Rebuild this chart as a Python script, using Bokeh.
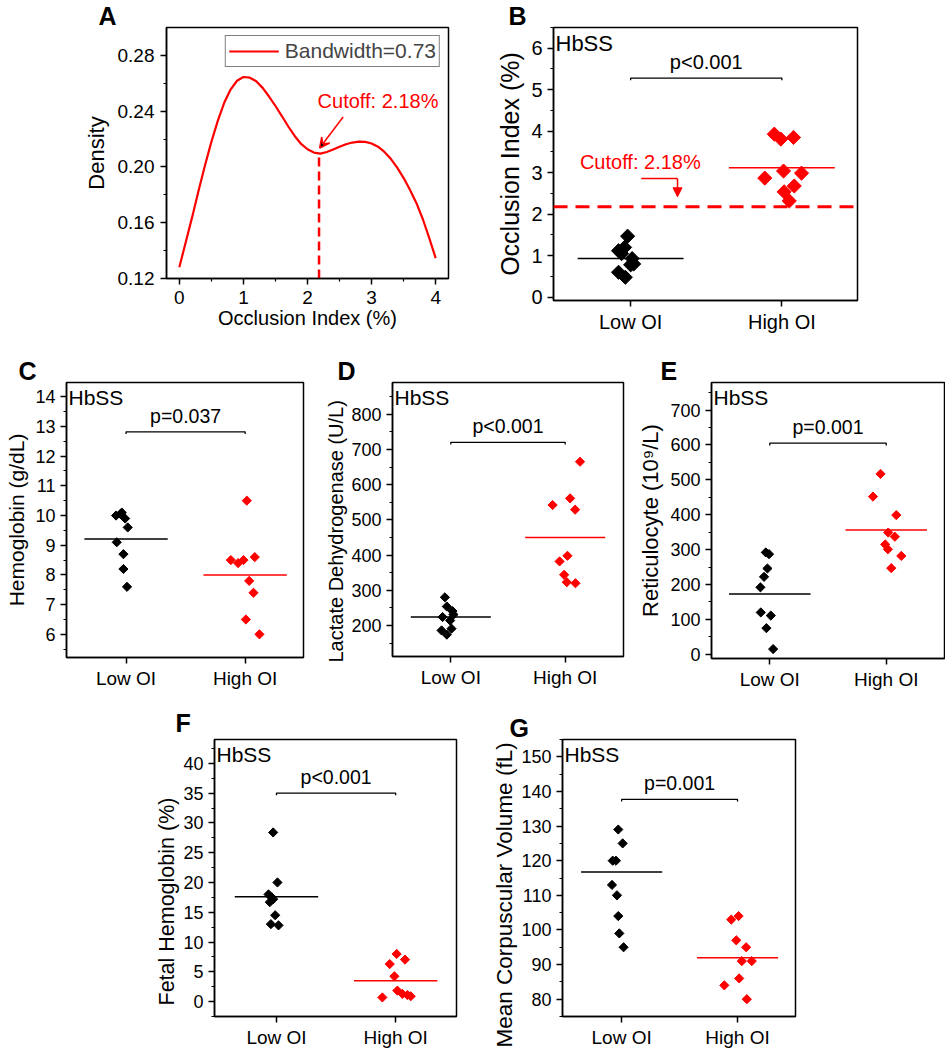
import math
from bokeh.plotting import figure
from bokeh.models import (Range1d, SingleIntervalTicker, FixedTicker, PrintfTickFormatter,
                          Label, Arrow, VeeHead, NormalHead, Span, Legend, LegendItem, Spacer,
                          Title)
from bokeh.layouts import row, column
from bokeh.embed import file_html
from bokeh.resources import INLINE

FONT = "Liberation Sans"
RED = "#FF0000"
BLACK = "#000000"

# ---------------- data ----------------
groups = ["Low OI", "High OI"]

# Panel A: kernel density estimate of occlusion index
kde_x = [0.0, 0.1, 0.2, 0.3, 0.4, 0.5, 0.6, 0.7, 0.8, 0.9, 1.0, 1.1, 1.2, 1.3, 1.4, 1.5,
         1.6, 1.7, 1.8, 1.9, 2.0, 2.1, 2.2, 2.3, 2.4, 2.5, 2.6, 2.7, 2.8, 2.9, 3.0, 3.1,
         3.2, 3.3, 3.4, 3.5, 3.6, 3.7, 3.8, 3.9, 4.0]
kde_y = [0.128, 0.146, 0.164, 0.183, 0.201, 0.218, 0.233, 0.246, 0.2555, 0.2618, 0.2645,
         0.2640, 0.2615, 0.2567, 0.2505, 0.2437, 0.2365, 0.2290, 0.2222, 0.2165, 0.2127,
         0.2103, 0.2096, 0.2107, 0.2125, 0.2145, 0.2163, 0.2175, 0.2182, 0.2180, 0.2168,
         0.2145, 0.2108, 0.2058, 0.1995, 0.1920, 0.1835, 0.1740, 0.1625, 0.1490, 0.1346]
bandwidth_label = "Bandwidth=0.73"
cutoff = 2.18
cutoff_density = 0.2096
cutoff_label = "Cutoff: 2.18%"

# Panel B: occlusion index
b_low = [1.47, 1.20, 1.12, 1.05, 0.93, 0.80, 0.78, 0.60, 0.48]
b_low_jit = [-0.02, -0.04, -0.08, -0.06, 0.01, 0.02, 0.0, -0.08, -0.035]
b_high = [3.93, 3.81, 3.85, 2.87, 3.04, 2.99, 2.54, 2.68, 2.32]
b_high_jit = [-0.05, -0.007, 0.077, -0.113, 0.011, 0.13, 0.015, 0.082, 0.049]
b_means = [0.93, 3.12]
b_p = "p<0.001"

# Panel C: hemoglobin
c_low = [10.0, 10.05, 10.1, 9.9, 9.6, 9.1, 8.7, 8.2, 7.6]
c_low_jit = [-0.084, -0.047, -0.036, -0.008, 0.014, -0.078, -0.022, -0.022, 0.008]
c_high = [10.5, 8.5, 8.4, 8.5, 8.6, 7.8, 7.4, 6.5, 6.0]
c_high_jit = [0.014, -0.12, -0.059, -0.014, 0.081, 0.034, 0.07, 0.006, 0.12]
c_means = [9.21, 8.0]
c_p = "p=0.037"

# Panel D: lactate dehydrogenase
d_low = [280, 254, 241, 224, 231, 214, 186, 174, 191]
d_low_jit = [-0.052, -0.035, 0.014, -0.072, 0.023, -0.006, -0.081, -0.035, 0.006]
d_high = [665, 542, 561, 529, 398, 382, 344, 323, 320]
d_high_jit = [0.13, -0.11, 0.043, 0.087, 0.02, -0.049, -0.009, 0.014, 0.09]
d_means = [224, 450]
d_p = "p<0.001"

# Panel E: reticulocyte
e_low = [292, 287, 246, 222, 192, 120, 111, 75, 15]
e_low_jit = [-0.034, -0.006, -0.02, -0.049, -0.08, -0.077, 0.009, -0.029, 0.029]
e_high = [517, 452, 399, 349, 337, 315, 301, 282, 247]
e_high_jit = [-0.049, -0.114, 0.086, 0.017, 0.074, -0.009, 0.014, 0.129, 0.043]
e_means = [173, 356]
e_p = "p=0.001"

# Panel F: fetal hemoglobin
f_low = [28.4, 20.0, 18.0, 16.7, 17.5, 17.2, 14.5, 13.0, 12.8]
f_low_jit = [-0.028, 0.008, -0.067, -0.056, -0.039, -0.028, -0.011, -0.047, 0.017]
f_high = [8.0, 7.05, 6.3, 4.25, 1.85, 1.3, 0.9, 0.7, 1.1]
f_high_jit = [0.008, 0.078, -0.05, -0.011, 0.014, 0.056, 0.126, -0.112, 0.098]
f_means = [17.6, 3.5]
f_p = "p<0.001"

# Panel G: mean corpuscular volume
g_low = [129, 125, 120, 120, 113, 110, 104, 99, 95]
g_low_jit = [-0.029, 0.009, -0.077, -0.049, -0.083, -0.04, -0.029, -0.02, 0.017]
g_high = [103, 104, 97, 95, 91, 91, 86, 84, 80]
g_high_jit = [-0.054, 0.009, -0.011, 0.074, 0.037, 0.123, 0.014, -0.114, 0.08]
g_means = [116.7, 92.0]
g_p = "p=0.001"


# ---------------- helpers ----------------
def base_fig(xr, yr, fw, fh, mbl, mbr, mbt, mbb):
    p = figure(x_range=Range1d(*xr), y_range=Range1d(*yr), frame_width=fw, frame_height=fh,
               min_border_left=mbl, min_border_right=mbr, min_border_top=mbt,
               min_border_bottom=mbb, output_backend="svg", toolbar_location=None, tools="")
    p.grid.visible = False
    p.outline_line_color = BLACK
    p.outline_line_width = 1.5
    p.outline_line_alpha = 1.0
    p.background_fill_color = "white"
    p.border_fill_color = "white"
    for ax in (p.xaxis[0], p.yaxis[0]):
        ax.axis_line_width = 1.5
        ax.axis_line_color = BLACK
        ax.major_tick_line_width = 1.5
        ax.major_tick_line_color = BLACK
        ax.minor_tick_line_width = 1.2
        ax.minor_tick_line_color = BLACK
        ax.major_tick_out = 6
        ax.major_tick_in = 0
        ax.minor_tick_out = 3
        ax.minor_tick_in = 0
        ax.major_label_text_font = FONT
        ax.major_label_text_color = BLACK
        ax.axis_label_text_font = FONT
        ax.axis_label_text_font_style = "normal"
        ax.axis_label_text_color = BLACK
    return p


def letter(p, text, offset, standoff):
    t = Title(text=text, align="left", offset=offset, standoff=standoff,
              vertical_align="bottom", text_font=FONT, text_font_style="bold",
              text_font_size="25px", text_color=BLACK)
    p.add_layout(t, "above")


def scatter_panel(low, low_jit, high, high_jit, means, ptext, ylabel, yr, xr, yint,
                  fw, fh, mbl, mbr, mbt, mbb, bracket_y, letter_text, loff, lstand,
                  msize=6.5, tick_fs="18px", xtick_fs="19px", ylab_fs="21px",
                  hb_fs="21px", p_fs="19.5px", ylab_shift=None):
    p = base_fig(xr, yr, fw, fh, mbl, mbr, mbt, mbb)
    p.yaxis[0].ticker = SingleIntervalTicker(interval=yint, num_minor_ticks=2)
    p.xaxis[0].ticker = FixedTicker(ticks=[1, 2])
    p.xaxis[0].major_label_overrides = {1: groups[0], 2: groups[1]}
    if ylab_shift is None:
        p.yaxis[0].axis_label = ylabel
        p.yaxis[0].axis_label_text_font_size = ylab_fs
        p.yaxis[0].axis_label_standoff = 4
    else:
        # y label drawn as a side title, anchored at the bottom of the frame
        p.add_layout(Title(text=ylabel, align="left", offset=ylab_shift, standoff=4,
                           vertical_align="bottom", text_font=FONT, text_font_style="normal",
                           text_font_size=ylab_fs, text_color=BLACK), "left")
    p.yaxis[0].major_label_text_font_size = tick_fs
    p.xaxis[0].major_label_text_font_size = xtick_fs
    p.yaxis[0].major_label_standoff = 5
    p.xaxis[0].major_label_standoff = 4

    for pos, vals, jit, col in ((1, low, low_jit, BLACK), (2, high, high_jit, RED)):
        xs = [pos + j for j in jit]
        p.scatter(xs, vals, marker="square", angle=math.pi / 4, size=msize,
                  fill_color=col, line_color=col, line_width=1)
    hw = 0.35
    p.segment(x0=[1 - hw, 2 - hw], x1=[1 + hw, 2 + hw], y0=means, y1=means,
              line_color=[BLACK, RED], line_width=1.5)
    # significance bracket
    tick = (yr[1] - yr[0]) * 0.008
    p.line([1, 1, 2, 2], [bracket_y - tick, bracket_y, bracket_y, bracket_y - tick],
           line_color=BLACK, line_width=1.3)
    p.add_layout(Label(x=1.5, y=bracket_y, y_offset=5, text=ptext, text_font=FONT,
                       text_font_size=p_fs, text_align="center", text_baseline="bottom",
                       text_color=BLACK))
    p.add_layout(Label(x=xr[0], y=yr[1], x_offset=2, y_offset=-3, text="HbSS",
                       text_font=FONT, text_font_size=hb_fs, text_align="left",
                       text_baseline="top", text_color=BLACK))
    letter(p, letter_text, loff, lstand)
    return p


# ---------------- Panel A ----------------
pa = base_fig((-0.2, 4.2), (0.12, 0.30), 282, 251, 166, 22, 27, 62)
pa.xaxis[0].ticker = FixedTicker(ticks=[0, 1, 2, 3, 4], minor_ticks=[0.5, 1.5, 2.5, 3.5])
pa.yaxis[0].ticker = SingleIntervalTicker(interval=0.04, num_minor_ticks=2)
pa.yaxis[0].formatter = PrintfTickFormatter(format="%.2f")
pa.xaxis[0].axis_label = "Occlusion Index (%)"
pa.yaxis[0].axis_label = "Density"
pa.xaxis[0].axis_label_text_font_size = "20px"
pa.yaxis[0].axis_label_text_font_size = "22px"
pa.xaxis[0].major_label_text_font_size = "19px"
pa.yaxis[0].major_label_text_font_size = "19px"
pa.yaxis[0].major_label_standoff = 6
pa.xaxis[0].major_label_standoff = 6
pa.xaxis[0].axis_label_standoff = 0
pa.yaxis[0].axis_label_standoff = 6

kde_r = pa.line(kde_x, kde_y, line_color=RED, line_width=2.2)
pa.line([cutoff, cutoff], [0.12, cutoff_density], line_color=RED, line_width=2.5,
        line_dash="9 5")
pa.add_layout(Arrow(end=VeeHead(size=10, line_color=RED, line_width=1.5),
                    x_start=2.556, y_start=0.2358, x_end=cutoff + 0.01, y_end=cutoff_density + 0.004,
                    line_color=RED, line_width=1.5))
pa.add_layout(Label(x=3.1, y=0.2475, text=cutoff_label, text_font=FONT, text_font_size="20px",
                    text_color=RED, text_align="center", text_baseline="middle"))
leg = Legend(items=[LegendItem(label=bandwidth_label, renderers=[kde_r])],
             location="top_right", margin=8, padding=3, spacing=0, glyph_width=50,
             glyph_height=20, label_standoff=6, label_text_font=FONT,
             label_text_font_size="21px", border_line_color=BLACK, border_line_width=1.5,
             background_fill_alpha=1.0)
pa.add_layout(leg)
letter(pa, "A", -68, -4)

# ---------------- Panel B ----------------
pb = scatter_panel(b_low, b_low_jit, b_high, b_high_jit, b_means, b_p,
                   "Occlusion Index (%)", (-0.08, 6.5), (0.49, 2.5), 1,
                   304, 273, 83, 78, 25, 42, 5.28, "B", -45, -5,
                   msize=10, tick_fs="20px", xtick_fs="20px", ylab_fs="25px",
                   hb_fs="22px", p_fs="20px")
pb.add_layout(Span(location=cutoff, dimension="width", line_color=RED, line_width=3,
                   line_dash="14 8"))
pb.line([1.07, 1.31], [2.86, 2.86], line_color=RED, line_width=1.5)
pb.add_layout(Arrow(end=NormalHead(size=9, fill_color=RED, line_color=RED),
                    x_start=1.31, y_start=2.86, x_end=1.31, y_end=2.42,
                    line_color=RED, line_width=1.5))
pb.add_layout(Label(x=1.064, y=3.26, text=cutoff_label, text_font=FONT, text_font_size="20px",
                    text_color=RED, text_align="center", text_baseline="middle"))

# ---------------- Row 2 ----------------
pc = scatter_panel(c_low, c_low_jit, c_high, c_high_jit, c_means, c_p,
                   "Hemoglobin (g/dL)", (5.22, 14.48), (0.5, 2.49), 1,
                   237, 275, 66, 17, 42, 33, 12.82, "C", -48, -4)
pd_ = scatter_panel(d_low, d_low_jit, d_high, d_high_jit, d_means, d_p,
                    "Lactate Dehydrogenase (U/L)", (112, 890), (0.49, 2.51), 100,
                    231, 274, 72, 12, 42, 34, 720, "D", -55, -4, ylab_fs="20px",
                    ylab_shift=-6)
pe = scatter_panel(e_low, e_low_jit, e_high, e_high_jit, e_means, e_p,
                   "Reticulocyte (10\u2079/L)", (-12, 779), (0.5, 2.5), 100,
                   233, 276, 73, 1, 42, 32, 605, "E", -51, -4, ylab_fs="22px")

# ---------------- Row 3 ----------------
pf = scatter_panel(f_low, f_low_jit, f_high, f_high_jit, f_means, f_p,
                   "Fetal Hemoglobin (%)", (-2.5, 44), (0.48, 2.51), 5,
                   242, 277, 62, 16, 47, 28, 35.0, "F", -39, 5, ylab_fs="21.5px",
                   ylab_shift=11)
pg = scatter_panel(g_low, g_low_jit, g_high, g_high_jit, g_means, g_p,
                   "Mean Corpuscular Volume (fL)", (75, 155), (0.49, 2.5), 10,
                   233, 277, 90, 17, 47, 28, 137.7, "G", -53, -4, ylab_fs="22.5px",
                   ylab_shift=-31)

layout = column(
    row(pa, pb),
    row(pc, pd_, pe),
    row(Spacer(width=150, height=10), pf, pg),
)

open("out.html", "w").write(file_html(layout, INLINE))
